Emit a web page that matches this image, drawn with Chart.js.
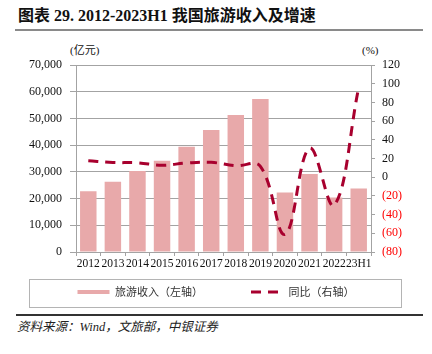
<!DOCTYPE html>
<html><head><meta charset="utf-8">
<script src="https://cdn.jsdelivr.net/npm/chart.js@4"></script>
<style>
html,body{margin:0;padding:0;background:#fff;}
#wrap{position:relative;width:432px;height:354px;overflow:hidden;background:#fff;}
canvas{position:absolute;left:0;top:0;}
.t{position:absolute;white-space:nowrap;color:#111;}
</style></head><body>
<div id="wrap">
<div class="t" style="left:18px;top:6px;line-height:20px;font-weight:bold;font-size:16px;font-family:'Liberation Serif','Noto Sans CJK SC';">图表 29. 2012-2023H1 我国旅游收入及增速</div>
<div style="position:absolute;left:15px;top:29px;width:408px;height:2px;background:#8a8a8a"></div>
<div class="t" style="left:70px;top:43px;line-height:14px;font-size:11px;font-family:'Liberation Serif','Noto Sans CJK SC';">(亿元)</div>
<div class="t" style="left:362px;top:43px;line-height:14px;font-size:11px;font-family:'Liberation Serif';">(%)</div>
<div style="position:absolute;left:29px;top:279px;width:371px;height:27px;border:1px solid #b4b4b4"></div>
<div style="position:absolute;left:16px;top:314px;width:407px;height:2px;background:#333"></div>
<div class="t" style="left:17px;top:319px;line-height:16px;font-style:italic;font-size:12.5px;font-family:'Liberation Serif','Noto Sans CJK SC';color:#222;">资料来源：Wind，文旅部，中银证券</div>
<canvas id="c" width="432" height="354"></canvas>
</div>
<script>
const categories = ['2012','2013','2014','2015','2016','2017','2018','2019','2020','2021','2022','23H1'];
const revenue = [22706, 26276, 30312, 34195, 39390, 45661, 51278, 57251, 22286, 29191, 20444, 23800];
const growth = [17.6, 15.7, 15.4, 12.8, 15.2, 15.9, 12.3, 11.7, -61.1, 31.0, -30.0, 95.9];
const leftTicks = [0, 10000, 20000, 30000, 40000, 50000, 60000, 70000];
const rightTicks = [-80, -60, -40, -20, 0, 20, 40, 60, 80, 100, 120];
const seriesNames = ['旅游收入（左轴）', '同比（右轴）'];

const barColor = '#E8A9AA';
const lineColor = '#A8002E';
const gridColor = '#a3a3a3';
const serif = "'Liberation Serif', 'Times New Roman', serif";

const legendMove = {
  id: 'legendMove',
  afterLayout(chart) {
    const lg = chart.legend;
    if (!lg) return;
    const pad = lg.options.labels.padding;
    lg.top = 292 - 5.5 - pad;
    lg.bottom = 354;
    lg.height = lg.bottom - lg.top;
  }
};

new Chart(document.getElementById('c'), {
  data: {
    labels: categories,
    datasets: [
      {
        type: 'line', label: seriesNames[1], data: growth, yAxisID: 'y1',
        borderColor: lineColor, borderWidth: 3, borderDash: [10, 7],
        tension: 0.4, pointRadius: 0, fill: false, order: 0
      },
      {
        type: 'bar', label: seriesNames[0], data: revenue, yAxisID: 'y',
        backgroundColor: barColor, borderWidth: 0,
        categoryPercentage: 1, barPercentage: 0.67, order: 1
      }
    ]
  },
  options: {
    responsive: false, animation: false, devicePixelRatio: 1,
    layout: { padding: { left: 0, right: 0, top: 65, bottom: 47 } },
    plugins: {
      tooltip: { enabled: false },
      legend: {
        position: 'bottom', maxHeight: 35,
        labels: {
          usePointStyle: true, pointStyleWidth: 32, padding: 48,
          font: { family: "'Noto Sans CJK SC'", size: 11 }, color: '#333',
          generateLabels: () => [
            { text: seriesNames[0], strokeStyle: barColor, fillStyle: barColor, lineWidth: 4, pointStyle: 'line', lineDash: [], datasetIndex: 1, hidden: false, fontColor: '#333' },
            { text: seriesNames[1], strokeStyle: lineColor, fillStyle: lineColor, lineWidth: 3, pointStyle: 'line', lineDash: [10, 7], datasetIndex: 0, hidden: false, fontColor: '#333' }
          ]
        }
      }
    },
    scales: {
      x: {
        offset: true,
        grid: { display: true, drawOnChartArea: false, offset: true, tickLength: 4, color: gridColor },
        border: { display: true, color: gridColor },
        ticks: { font: { family: serif, size: 11.5 }, color: '#111', padding: 1, maxRotation: 0, autoSkip: false },
        afterFit: (s) => { s.height = 20; }
      },
      y: {
        position: 'left', min: 0, max: 70000,
        afterBuildTicks: (s) => { s.ticks = leftTicks.map(v => ({ value: v })); },
        grid: { color: gridColor, tickLength: 6 },
        border: { display: true, color: gridColor },
        ticks: { font: { family: serif, size: 12 }, color: '#111', padding: 8,
          callback: (v) => Number(v).toLocaleString('en-US') },
        afterFit: (s) => { s.width = 76; }
      },
      y1: {
        position: 'right', min: -80, max: 120,
        afterBuildTicks: (s) => { s.ticks = rightTicks.map(v => ({ value: v })); },
        grid: { drawOnChartArea: false, color: gridColor, tickLength: 4 },
        border: { display: true, color: gridColor },
        ticks: { font: { family: serif, size: 12 }, padding: 7,
          color: (ctx) => (ctx.tick && ctx.tick.value < 0) ? '#FF0000' : '#111',
          callback: (v) => v < 0 ? '(' + (-v) + ')' : String(v) },
        afterFit: (s) => { s.width = 61; }
      }
    }
  },
  plugins: [legendMove]
});
</script>
</body></html>
